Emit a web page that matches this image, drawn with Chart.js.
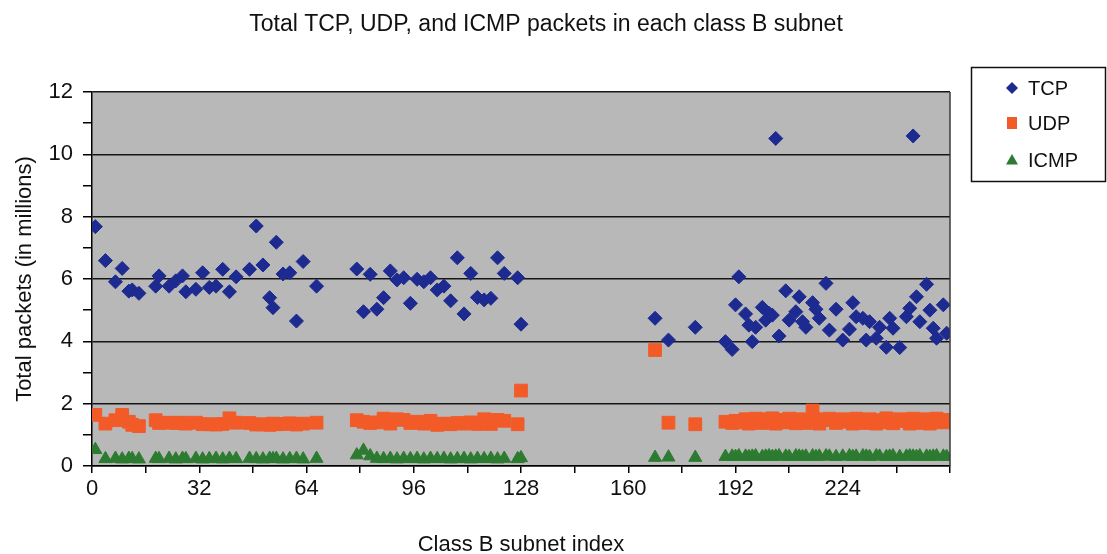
<!DOCTYPE html>
<html>
<head>
<meta charset="utf-8">
<title>Total TCP, UDP, and ICMP packets in each class B subnet</title>
<script src="https://cdn.jsdelivr.net/npm/chart.js@4.4.1/dist/chart.umd.min.js"></script>
<style>
  html, body { margin: 0; padding: 0; background: #fff; }
</style>
</head>
<body>
<canvas id="grafico" width="1107" height="554"></canvas>
<script>
// indices of the class B subnets that carried traffic
const subnetIdx = [
  1, 4, 7, 9, 11, 12, 14, 19, 20, 23, 25, 27, 28, 31, 33, 35, 37, 39, 41, 43, 47, 49, 51, 53, 54, 55, 57, 59, 61, 63, 67,
  79, 81, 83, 85, 87, 89, 91, 93, 95, 97, 99, 101, 103, 105, 107, 109, 111, 113, 115, 117, 119, 121, 123, 127, 128,
  168, 172, 180,
  189, 191, 192, 193, 195, 196, 197, 198, 200, 201, 202, 203, 204, 205, 207, 208, 210, 211, 212, 213,
  215, 216, 217, 219, 220, 222, 224, 226, 227, 228, 230, 231, 232, 234, 235, 237, 238, 239, 241, 243,
  244, 245, 246, 247, 249, 250, 251, 252, 254, 255
];

// packets per subnet, in millions
const tcpPackets = [
  7.68, 6.59, 5.91, 6.34, 5.61, 5.65, 5.54, 5.77, 6.10, 5.77, 5.94, 6.10, 5.59, 5.67, 6.20, 5.73, 5.77, 6.31, 5.59, 6.07, 6.31, 7.70, 6.45, 5.40, 5.08, 7.18, 6.16, 6.20, 4.65, 6.56, 5.77,
  6.32, 4.95, 6.15, 5.03, 5.40, 6.26, 5.97, 6.04, 5.22, 5.99, 5.91, 6.04, 5.65, 5.77, 5.30, 6.68, 4.88, 6.18, 5.41, 5.33, 5.38, 6.68, 6.18, 6.04, 4.55,
  4.74, 4.04, 4.45,
  3.99, 3.74, 5.17, 6.07, 4.88, 4.52, 3.99, 4.45, 5.09, 4.68, 4.90, 4.84, 10.51, 4.17, 5.62, 4.68, 4.95, 5.43, 4.63, 4.45,
  5.24, 5.03, 4.74, 5.86, 4.36, 5.03, 4.04, 4.39, 5.24, 4.79, 4.74, 4.04, 4.63, 4.10, 4.45, 3.81, 4.74, 4.42, 3.80, 4.79,
  5.06, 10.59, 5.43, 4.63, 5.83, 5.00, 4.42, 4.10, 5.17, 4.26
];

const udpPackets = [
  1.64, 1.36, 1.47, 1.64, 1.42, 1.32, 1.28, 1.47, 1.38, 1.39, 1.38, 1.39, 1.36, 1.39, 1.34, 1.34, 1.33, 1.35, 1.53, 1.39, 1.38, 1.33, 1.34, 1.32, 1.36, 1.34, 1.35, 1.37, 1.33, 1.36, 1.39,
  1.47, 1.42, 1.38, 1.40, 1.52, 1.36, 1.50, 1.48, 1.38, 1.42, 1.36, 1.45, 1.32, 1.36, 1.34, 1.38, 1.36, 1.40, 1.35, 1.50, 1.35, 1.48, 1.45, 1.34, 2.42,
  3.72, 1.39, 1.34,
  1.42, 1.38, 1.45, 1.40, 1.50, 1.36, 1.47, 1.52, 1.38, 1.50, 1.42, 1.53, 1.36, 1.48, 1.40, 1.52, 1.37, 1.50, 1.44, 1.38,
  1.78, 1.50, 1.36, 1.47, 1.52, 1.38, 1.50, 1.42, 1.36, 1.52, 1.45, 1.38, 1.50, 1.36, 1.47, 1.53, 1.40, 1.37, 1.50, 1.44,
  1.36, 1.52, 1.38, 1.47, 1.50, 1.36, 1.45, 1.52, 1.40, 1.48
];

const icmpPackets = [
  0.52, 0.23, 0.24, 0.22, 0.24, 0.23, 0.22, 0.24, 0.23, 0.24, 0.22, 0.24, 0.23, 0.24, 0.22, 0.23, 0.24, 0.22, 0.24, 0.23, 0.24, 0.23, 0.22, 0.24, 0.23, 0.24, 0.22, 0.23, 0.24, 0.22, 0.24,
  0.35, 0.50, 0.32, 0.24, 0.23, 0.24, 0.22, 0.24, 0.23, 0.24, 0.22, 0.24, 0.23, 0.24, 0.22, 0.23, 0.24, 0.22, 0.24, 0.23, 0.24, 0.22, 0.24, 0.23, 0.26,
  0.27, 0.28, 0.27,
  0.30, 0.31, 0.30, 0.32, 0.31, 0.30, 0.31, 0.32, 0.30, 0.31, 0.32, 0.30, 0.31, 0.32, 0.31, 0.30, 0.32, 0.31, 0.30, 0.31,
  0.32, 0.30, 0.31, 0.32, 0.31, 0.30, 0.31, 0.32, 0.30, 0.31, 0.32, 0.31, 0.30, 0.32, 0.31, 0.30, 0.31, 0.32, 0.30, 0.31,
  0.32, 0.31, 0.30, 0.32, 0.31, 0.30, 0.31, 0.32, 0.31, 0.30
];

const yTicks = [0, 2, 4, 6, 8, 10, 12];
const xTicks = [0, 32, 64, 96, 128, 160, 192, 224];

const fuente = '"Liberation Sans", Arial, sans-serif';
const colores = { TCP: '#1d2a90', UDP: '#f25b28', ICMP: '#2c7b30' };

const puntos = valores => subnetIdx.map((x, i) => ({ x: x, y: valores[i] }));

// gray plot area, right border, title and boxed legend
const decorado = {
  id: 'decorado',
  beforeDraw(chart) {
    const { ctx, chartArea: a } = chart;
    ctx.save();
    ctx.fillStyle = '#b8b8b8';
    ctx.fillRect(a.left, a.top, a.right - a.left, a.bottom - a.top);
    ctx.restore();
  },
  afterDraw(chart) {
    const { ctx, chartArea: a } = chart;
    ctx.save();
    ctx.strokeStyle = '#3a3a3a';
    ctx.lineWidth = 1.5;
    ctx.beginPath();
    ctx.moveTo(a.right, a.top);
    ctx.lineTo(a.right, a.bottom);
    ctx.stroke();

    ctx.fillStyle = '#111';
    ctx.font = '23px ' + fuente;
    ctx.textAlign = 'center';
    ctx.textBaseline = 'alphabetic';
    ctx.fillText('Total TCP, UDP, and ICMP packets in each class B subnet', 546, 31);

    // legend box
    ctx.strokeStyle = '#111';
    ctx.lineWidth = 1.5;
    ctx.strokeRect(971.5, 67.5, 134, 114);
    const filas = [95, 130, 167];
    ctx.font = '20px ' + fuente;
    ctx.textAlign = 'left';
    chart.data.datasets.forEach((ds, i) => {
      const cy = filas[i] - 7;
      const cx = 1012;
      ctx.fillStyle = ds.backgroundColor;
      ctx.beginPath();
      if (ds.pointStyle === 'rectRot') {
        ctx.moveTo(cx, cy - 6);
        ctx.lineTo(cx + 6, cy);
        ctx.lineTo(cx, cy + 6);
        ctx.lineTo(cx - 6, cy);
      } else if (ds.pointStyle === 'rect') {
        ctx.rect(cx - 5, cy - 6, 10, 12);
      } else {
        ctx.moveTo(cx, cy - 6);
        ctx.lineTo(cx + 6, cy + 4.5);
        ctx.lineTo(cx - 6, cy + 4.5);
      }
      ctx.closePath();
      ctx.fill();
      ctx.fillStyle = '#111';
      ctx.fillText(ds.label, 1028, filas[i]);
    });
    ctx.restore();
  }
};

const serie = (label, valores, estilo, radio) => ({
  label: label,
  data: puntos(valores),
  pointStyle: estilo,
  pointRadius: radio,
  pointHoverRadius: radio,
  backgroundColor: colores[label],
  borderColor: colores[label],
  borderWidth: 1,
  showLine: false
});

new Chart(document.getElementById('grafico'), {
  type: 'scatter',
  data: {
    datasets: [
      serie('TCP', tcpPackets, 'rectRot', 7),
      serie('UDP', udpPackets, 'rect', 9),
      serie('ICMP', icmpPackets, 'triangle', 7.5)
    ]
  },
  options: {
    responsive: false,
    animation: false,
    events: [],
    layout: { padding: { top: 92, right: 157, bottom: 0, left: 0 } },
    plugins: {
      legend: { display: false },
      title: { display: false },
      tooltip: { enabled: false }
    },
    scales: {
      x: {
        type: 'linear',
        min: 0,
        max: 256,
        afterFit: s => { s.height = 88; },
        border: { display: true, color: '#000', width: 1.5 },
        grid: { drawOnChartArea: false, drawTicks: true, tickLength: 7, color: '#000', lineWidth: 1.5 },
        ticks: {
          stepSize: 16,
          autoSkip: false,
          maxRotation: 0,
          padding: 3,
          color: '#111',
          font: { family: fuente, size: 22 },
          callback: v => (xTicks.includes(v) ? String(v) : '')
        },
        title: {
          display: true,
          text: 'Class B subnet index',
          color: '#111',
          font: { family: fuente, size: 22, lineHeight: 1 },
          padding: { top: 0, bottom: -2 }
        }
      },
      y: {
        min: 0,
        max: 12,
        afterFit: s => { s.width = 92; },
        border: { display: true, color: '#000', width: 1.5 },
        grid: {
          color: c => (c.tick && yTicks.includes(c.tick.value) ? '#161616' : 'rgba(0,0,0,0)'),
          tickColor: '#000',
          lineWidth: 1.5,
          tickWidth: 1.5,
          tickLength: 9
        },
        ticks: {
          stepSize: 1,
          padding: 10,
          color: '#111',
          font: { family: fuente, size: 22 },
          callback: v => (yTicks.includes(v) ? String(v) : '')
        },
        title: {
          display: true,
          text: 'Total packets (in millions)',
          color: '#111',
          font: { family: fuente, size: 22 },
          padding: { top: 12, bottom: 0 }
        }
      }
    }
  },
  plugins: [decorado]
});
</script>
</body>
</html>
